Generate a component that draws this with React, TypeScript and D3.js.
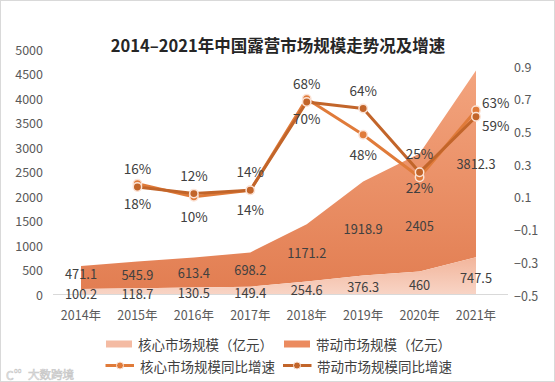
import React from 'react';
import * as d3 from 'd3';

const years = ['2014年', '2015年', '2016年', '2017年', '2018年', '2019年', '2020年', '2021年'];
const coreSize = [100.2, 118.7, 130.5, 149.4, 254.6, 376.3, 460, 747.5];
const driveSize = [471.1, 545.9, 613.4, 698.2, 1171.2, 1918.9, 2405, 3812.3];
const coreGrowth: (number | null)[] = [null, 0.18, 0.10, 0.14, 0.70, 0.48, 0.22, 0.63];
const driveGrowth: (number | null)[] = [null, 0.16, 0.12, 0.14, 0.68, 0.64, 0.25, 0.59];
const leftTicks = [0, 500, 1000, 1500, 2000, 2500, 3000, 3500, 4000, 4500, 5000];
const rightTicks = [-0.5, -0.3, -0.1, 0.1, 0.3, 0.5, 0.7, 0.9];
const title = '2014–2021年中国露营市场规模走势况及增速';
const legendAreas = ['核心市场规模（亿元）', '带动市场规模（亿元）'];
const legendLines = ['核心市场规模同比增速', '带动市场规模同比增速'];

// manual label nudges (pixels) as in the reference, keyed by year
const driveAreaLabelNudge: Record<string, number> = { '2014年': -4, '2020年': 13 };
const coreLineLabelNudge: Record<string, number> = { '2020年': -9 };

const W = 555, H = 382;
const FONT = '"Noto Sans CJK SC", "Noto Sans", sans-serif';
const TXT = '#404040';
const CORE_LINE = '#E07B3A';
const DRIVE_LINE = '#C2652A';

export default function App() {
  const x = d3.scalePoint<string>().domain(years).range([81, 476]);
  const yL = d3.scaleLinear().domain([0, 5000]).range([294, 49]);
  const yR = d3.scaleLinear().domain([-0.5, 0.9]).range([295, 66]);

  const rows = years.map((y, i) => ({ year: y, core: coreSize[i], drive: driveSize[i] }));
  const stacked = d3.stack<any>().keys(['core', 'drive'])(rows);
  const area = d3.area<any>()
    .x((d: any) => x(d.data.year) as number)
    .y0((d: any) => yL(d[0]))
    .y1((d: any) => yL(d[1]));

  const line = d3.line<any>()
    .defined((d: any) => d.v != null)
    .x((d: any) => x(d.year) as number)
    .y((d: any) => yR(d.v));

  const coreLinePts = years.map((y, i) => ({ year: y, v: coreGrowth[i] }));
  const driveLinePts = years.map((y, i) => ({ year: y, v: driveGrowth[i] }));
  const pct = (v: number) => `${Math.round(v * 100)}%`;
  const last = years.length - 1;

  const renderSeries = (pts: any[], color: string) => (
    <g>
      <path d={line(pts) || ''} fill="none" stroke={color} strokeWidth={3} strokeLinejoin="round" />
      {pts.filter(p => p.v != null).map((p, k) => (
        <circle key={k} cx={x(p.year)} cy={yR(p.v)} r={4.2} fill={color} stroke="#FBE3D6" strokeWidth={1.5} />
      ))}
    </g>
  );
  const renderLabels = (pts: any[], below: boolean, nudge: Record<string, number>) =>
    pts.map((p, k) => {
      if (p.v == null) return null;
      const px = x(p.year) as number;
      const py = yR(p.v);
      const isLast = k === last;
      const n = nudge[p.year] || 0;
      return (
        <text key={k}
          x={isLast ? px + 6 : px}
          y={(isLast ? py + (below ? -8 : 8) : py + (below ? 19 : -19)) + n}
          textAnchor={isLast ? 'start' : 'middle'}
          dominantBaseline="central"
          fontSize={13.5} fill={TXT} fontFamily={FONT}>{pct(p.v)}</text>
      );
    });

  return (
    <svg width={W} height={H} style={{ position: 'absolute', left: 0, top: 0, background: '#fff' }} fontFamily={FONT}>
      <defs>
        <linearGradient id="gDrive" x1="0" y1="0" x2="0" y2="1">
          <stop offset="0" stopColor="#F3A47E" />
          <stop offset="1" stopColor="#E27E52" />
        </linearGradient>
        <linearGradient id="gCore" x1="0" y1="0" x2="0" y2="1">
          <stop offset="0" stopColor="#F2B59B" />
          <stop offset="1" stopColor="#F8D4C5" />
        </linearGradient>
      </defs>
      <rect x={0.5} y={0.5} width={W - 1} height={H - 1} fill="#fff" stroke="#D9D9D9" />
      <text x={278} y={45} textAnchor="middle" dominantBaseline="central" fontSize={16.5} fontWeight="bold" fill="#262626">{title}</text>

      {/* areas */}
      <path d={area(stacked[1]) || ''} fill="url(#gDrive)" />
      <path d={area(stacked[0]) || ''} fill="url(#gCore)" />
      <line x1={53} x2={508} y1={yL(0) + 0.5} y2={yL(0) + 0.5} stroke="#D9D9D9" strokeWidth={1} />

      {/* left axis */}
      {leftTicks.map(t => (
        <text key={t} x={43} y={yL(t)} textAnchor="end" dominantBaseline="central" fontSize={12.5} fill="#595959">{t}</text>
      ))}
      {/* right axis */}
      {rightTicks.map(t => (
        <text key={t} x={514} y={yR(t)} textAnchor="start" dominantBaseline="central" fontSize={12.5} fill="#595959">
          {t < 0 ? '−' + Math.abs(t).toFixed(1) : t.toFixed(1)}
        </text>
      ))}
      {/* x labels */}
      {years.map(y => (
        <text key={y} x={x(y)} y={314} textAnchor="middle" dominantBaseline="central" fontSize={12.5} fill="#595959">{y}</text>
      ))}

      {/* area labels */}
      {stacked[1].map((d: any, i: number) => (
        <text key={'d' + i} x={x(d.data.year)} y={yL((d[0] + d[1]) / 2) + (driveAreaLabelNudge[d.data.year] || 0)} textAnchor="middle" dominantBaseline="central" fontSize={12.8} fill={TXT}>{driveSize[i]}</text>
      ))}
      {stacked[0].map((d: any, i: number) => (
        <text key={'c' + i} x={x(d.data.year)} y={yL((d[0] + d[1]) / 2) + 2} textAnchor="middle" dominantBaseline="central" fontSize={12.8} fill={TXT}>{coreSize[i]}</text>
      ))}

      {/* lines */}
      {renderSeries(coreLinePts, CORE_LINE)}
      {renderSeries(driveLinePts, DRIVE_LINE)}
      {renderLabels(coreLinePts, true, coreLineLabelNudge)}
      {renderLabels(driveLinePts, false, {})}

      {/* legend */}
      <rect x={106} y={340.5} width={26} height={7} fill="#F4BBA3" />
      <text x={138} y={344} dominantBaseline="central" fontSize={13.5} fill={TXT}>{legendAreas[0]}</text>
      <rect x={284} y={340.5} width={26} height={7} fill="#EB8B5F" />
      <text x={316} y={344} dominantBaseline="central" fontSize={13.5} fill={TXT}>{legendAreas[1]}</text>

      <line x1={105.5} x2={134} y1={365.5} y2={365.5} stroke={CORE_LINE} strokeWidth={3} />
      <circle cx={120} cy={365.5} r={3.5} fill={CORE_LINE} stroke="#FBE3D6" strokeWidth={1} />
      <text x={140} y={365.5} dominantBaseline="central" fontSize={13.5} fill={TXT}>{legendLines[0]}</text>
      <line x1={283} x2={311.5} y1={365.5} y2={365.5} stroke={DRIVE_LINE} strokeWidth={3} />
      <circle cx={297} cy={365.5} r={3.5} fill={DRIVE_LINE} stroke="#FBE3D6" strokeWidth={1} />
      <text x={317} y={365.5} dominantBaseline="central" fontSize={13.5} fill={TXT}>{legendLines[1]}</text>

      {/* watermark */}
      <text x={6} y={374} dominantBaseline="central" fontSize={12} fill="#EDEDED" stroke="#C8C8C8" strokeWidth={0.6}>C</text>
      <text x={14} y={370} dominantBaseline="central" fontSize={6} fill="#EDEDED" stroke="#C8C8C8" strokeWidth={0.4}>oo</text>
      <text x={28} y={374} dominantBaseline="central" fontSize={11.5} fill="#EDEDED" stroke="#C8C8C8" strokeWidth={0.6}>大数跨境</text>
    </svg>
  );
}
